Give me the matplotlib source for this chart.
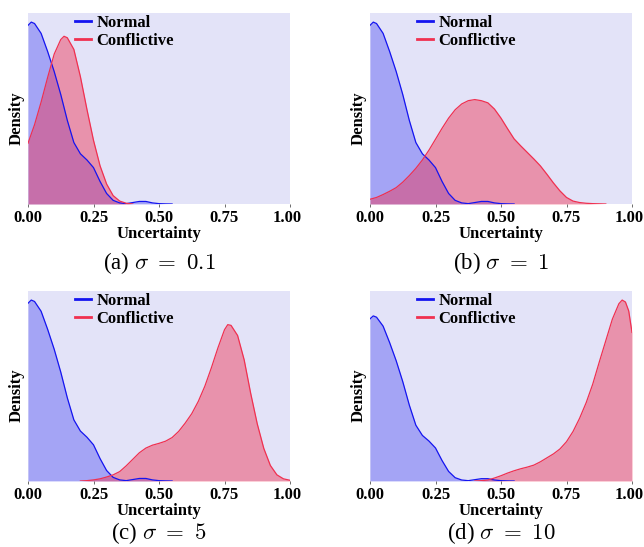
import matplotlib.pyplot as plt
import matplotlib.transforms as mtransforms
from matplotlib.lines import Line2D

plt.rcParams['font.family'] = ['Liberation Serif', 'DejaVu Serif']
plt.rcParams['mathtext.fontset'] = 'cm'

# density curves (KDE of uncertainty, same Normal curve in every panel)
normal_u = [0.0, 0.0125, 0.025, 0.05, 0.075, 0.1, 0.125, 0.15, 0.175, 0.2, 0.225, 0.25,
            0.275, 0.3, 0.325, 0.35, 0.375, 0.4, 0.425, 0.45, 0.475, 0.5, 0.525, 0.55]
normal_d = [4.91, 5.00, 4.96, 4.69, 4.19, 3.64, 3.01, 2.30, 1.69, 1.38, 1.21, 1.00,
            0.62, 0.29, 0.10, 0.03, 0.01, 0.04, 0.07, 0.07, 0.03, 0.01, 0.003, 0.0]

conf_a_u = [0.0, 0.025, 0.05, 0.075, 0.1, 0.125, 0.1375, 0.15, 0.175, 0.2, 0.225, 0.25,
            0.275, 0.3, 0.325, 0.35, 0.375, 0.4]
conf_a_d = [1.67, 2.18, 2.80, 3.48, 4.12, 4.52, 4.61, 4.57, 4.25, 3.50, 2.60, 1.75,
            1.05, 0.55, 0.23, 0.08, 0.02, 0.0]

conf_b_u = [0.0, 0.025, 0.05, 0.075, 0.1, 0.125, 0.15, 0.175, 0.2, 0.225, 0.25, 0.275,
            0.3, 0.325, 0.35, 0.375, 0.4, 0.425, 0.45, 0.475, 0.5, 0.525, 0.55, 0.575,
            0.6, 0.625, 0.65, 0.675, 0.7, 0.725, 0.75, 0.775, 0.8, 0.825, 0.85, 0.875, 0.9]
conf_b_d = [0.13, 0.18, 0.26, 0.35, 0.45, 0.60, 0.78, 0.98, 1.21, 1.48, 1.78, 2.08,
            2.36, 2.59, 2.75, 2.84, 2.87, 2.84, 2.78, 2.61, 2.36, 2.07, 1.79, 1.60,
            1.42, 1.24, 1.05, 0.82, 0.58, 0.36, 0.18, 0.08, 0.04, 0.02, 0.01, 0.005, 0.0]

conf_c_u = [0.2, 0.225, 0.25, 0.275, 0.3, 0.325, 0.35, 0.375, 0.4, 0.425, 0.45, 0.475,
            0.5, 0.525, 0.55, 0.575, 0.6, 0.625, 0.65, 0.675, 0.7, 0.725, 0.75, 0.7625,
            0.775, 0.8, 0.825, 0.85, 0.875, 0.9, 0.925, 0.95, 0.975, 1.0]
conf_c_d = [0.0, 0.01, 0.03, 0.06, 0.11, 0.17, 0.26, 0.42, 0.60, 0.78, 0.91, 0.99,
            1.04, 1.10, 1.20, 1.37, 1.60, 1.86, 2.20, 2.62, 3.13, 3.68, 4.18, 4.32,
            4.30, 4.02, 3.35, 2.42, 1.58, 0.90, 0.43, 0.17, 0.06, 0.02]

conf_d_u = [0.4, 0.425, 0.45, 0.475, 0.5, 0.525, 0.55, 0.575, 0.6, 0.625, 0.65, 0.675,
            0.7, 0.725, 0.75, 0.775, 0.8, 0.825, 0.85, 0.875, 0.9, 0.925, 0.95, 0.9625,
            0.975, 0.9875, 1.0]
conf_d_d = [0.0, 0.01, 0.03, 0.09, 0.16, 0.24, 0.31, 0.37, 0.42, 0.48, 0.58, 0.70,
            0.82, 0.97, 1.19, 1.50, 1.90, 2.37, 2.93, 3.60, 4.25, 4.90, 5.37, 5.48,
            5.42, 5.15, 4.50]

tags = ['(a)', '(b)', '(c)', '(d)']
sigmas = ['0.1', '1', '5', '10']
conf_u = [conf_a_u, conf_b_u, conf_c_u, conf_d_u]
conf_d = [conf_a_d, conf_b_d, conf_c_d, conf_d_d]
xticks = [0, 0.25, 0.5, 0.75, 1.0]
xticklabels = ['0.00', '0.25', '0.50', '0.75', '1.00']

BG = '#E3E3F8'
BLUE = '#1414F0'
RED = '#F03050'

W, H = 644, 547
# axes boxes in pixels: left, top, right, bottom
boxes = [(28, 13, 290, 204), (370, 13, 632, 204),
         (28, 291, 290, 481), (370, 291, 632, 481)]
caption_y = [263, 263, 533, 533]

fig = plt.figure(figsize=(W / 100, H / 100), dpi=100)

for i in range(4):
    l, t, r, b = boxes[i]
    ax = fig.add_axes([l / W, 1 - b / H, (r - l) / W, (b - t) / H])
    ax.set_facecolor(BG)
    ax.fill_between(normal_u, normal_d, color=BLUE, alpha=0.3, lw=0)
    ax.plot(normal_u, normal_d, color=BLUE, lw=0.9)
    ax.fill_between(conf_u[i], conf_d[i], color=RED, alpha=0.45, lw=0)
    ax.plot(conf_u[i], conf_d[i], color=RED, lw=0.9)

    ax.set_xlim(0, 1)
    ax.set_ylim(0, 1.05 * max(max(normal_d), max(conf_d[i])))
    ax.set_yticks([])
    ax.set_xticks(xticks)
    ax.set_xticklabels(xticklabels, fontsize=12, fontweight='bold')
    ax.tick_params(axis='x', length=2.5, width=0.6, color='#555555', pad=2)
    # last label sits a little left of its tick, as in the original
    last = ax.get_xticklabels()[-1]
    last.set_transform(last.get_transform() +
                       mtransforms.ScaledTranslation(-3 / 100, 0, fig.dpi_scale_trans))
    for s in ax.spines.values():
        s.set_visible(False)

    ax.set_xlabel('Uncertainty', fontsize=12, fontweight='bold', labelpad=0)
    ax.set_ylabel('Density', fontsize=12, fontweight='bold')
    ax.yaxis.set_label_coords(-0.012, 0.45)

    handles = [Line2D([], [], color=BLUE, lw=2), Line2D([], [], color=RED, lw=2)]
    ax.legend(handles, ['Normal', 'Conflictive'], loc='upper left',
              bbox_to_anchor=(0.178, 0.99), frameon=False, borderpad=0, borderaxespad=0,
              handlelength=1.0, handletextpad=0.3, labelspacing=0.1,
              prop={'size': 12, 'weight': 'bold'})

    fig.text((l + r) / 2 / W, 1 - caption_y[i] / H, f'{tags[i]} $\\sigma\\ =\\ {sigmas[i]}$',
             ha='center', va='center', fontsize=16.5)

fig.savefig('out.png', dpi=100)
